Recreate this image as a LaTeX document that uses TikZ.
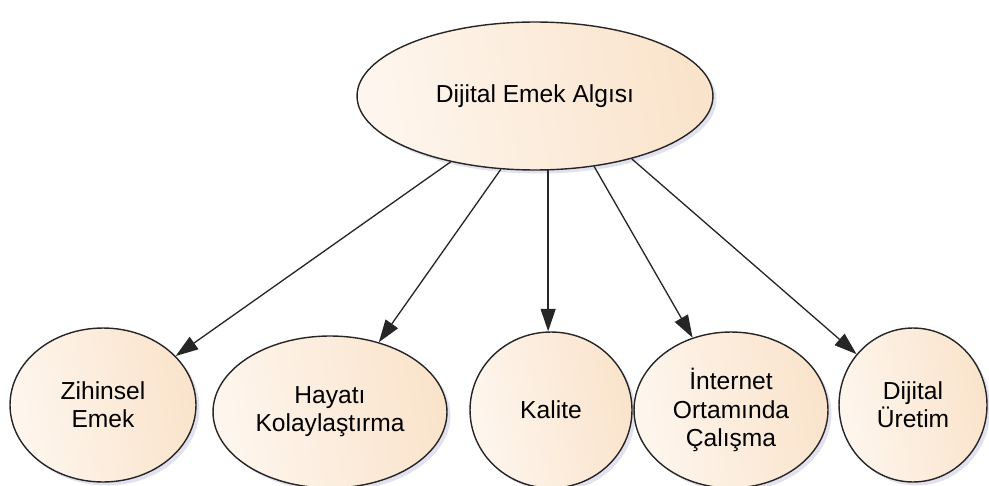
\documentclass[tikz,border=0pt]{standalone}
\usepackage{fontspec}
\setmainfont{Liberation Sans}
\usetikzlibrary{shapes.geometric,arrows.meta,shadows}
\definecolor{peachl}{RGB}{254,246,238}
\definecolor{peachr}{RGB}{250,227,203}
\begin{document}
\begin{tikzpicture}[x=0.02cm,y=-0.02cm,
  bubble/.style={ellipse,draw=black!85,line width=0.8pt,inner sep=0pt,align=center,
    left color=peachl,right color=peachr,shading angle=100,
    drop shadow={opacity=0.18,shadow xshift=2pt,shadow yshift=-2pt,fill=blue!30!gray},
    font=\fontsize{14}{16}\selectfont},
  arr/.style={-{Triangle[length=4.5mm,width=3mm]},line width=0.75pt,black!85}]
\useasboundingbox (0,0) rectangle (989,486);
\node[bubble,minimum width=7.12cm,minimum height=2.96cm] (top) at (535,96) {Dijital Emek Algısı};
\node[bubble,minimum width=3.72cm,minimum height=3.08cm] (zih) at (103,405) {Zihinsel\\Emek};
\node[bubble,minimum width=4.68cm,minimum height=3.04cm] (hay) at (330,412) {Hayatı\\Kolaylaştırma};
\node[bubble,minimum width=3.24cm,minimum height=3.12cm] (kal) at (551,410) {Kalite};
\node[bubble,minimum width=3.88cm,minimum height=3.12cm] (int) at (731,410) {İnternet\\Ortamında\\Çalışma};
\node[bubble,minimum width=2.96cm,minimum height=3.08cm] (dij) at (913,405) {Dijital\\Üretim};
\draw[arr] (top.218) -- (zih.34);
\draw[arr] (top.245) -- (hay.55);
\draw[arr] (top.280) -- (top.280 |- kal.north);
\draw[arr] (top.310) -- (int.118);
\draw[arr] (top.327) -- (dij.138);
\end{tikzpicture}
\end{document}
